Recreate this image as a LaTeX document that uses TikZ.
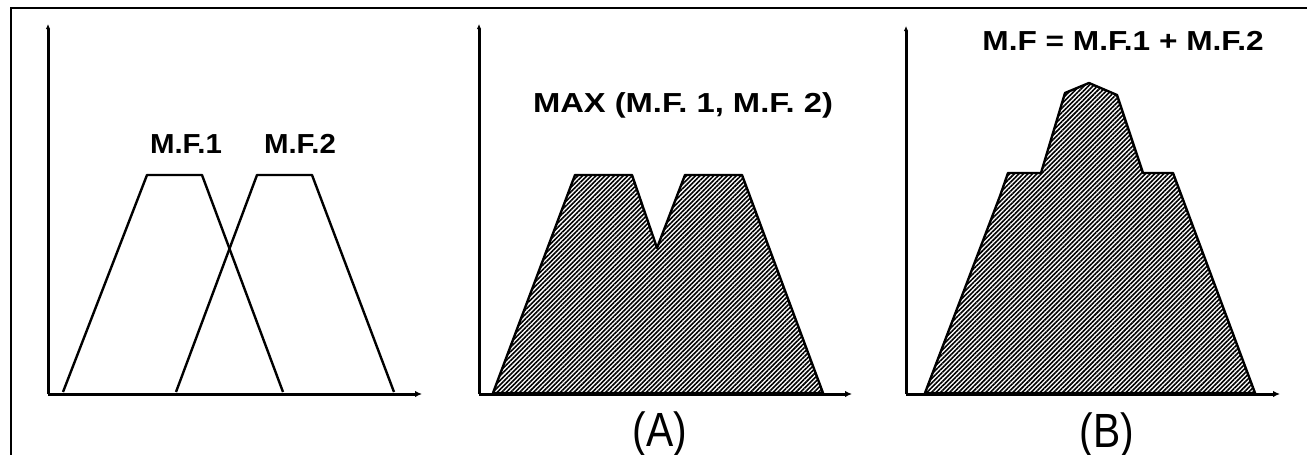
\documentclass[tikz,border=0pt]{standalone}
\usepackage{fontspec}
\setmainfont{Liberation Sans}
\usetikzlibrary{arrows.meta,patterns.meta}
\begin{document}
\begin{tikzpicture}[x=1pt,y=-1pt,
  frame/.style={line width=2.4pt},
  axis/.style={line width=3pt,-{Latex[length=7pt,width=6.5pt]}},
  yaxis/.style={line width=3pt,-{Latex[length=5pt,width=4.5pt]}},
  mf/.style={line width=2.4pt,line join=round},
  hatched/.style={line width=2.4pt,line join=round,pattern={Lines[angle=45,distance=3.2pt,line width=1.6pt]}},
  lbl/.style={anchor=base,inner sep=0pt,font=\bfseries\fontsize{27.5}{30}\selectfont},
  panellbl/.style={anchor=base,inner sep=0pt,font=\fontsize{48}{50}\selectfont}]
\useasboundingbox (0,0) rectangle (1307,455);
% frame
\draw[frame] (11,455) -- (11,8) -- (1307,8);
% ---------- panel 1 ----------
\coordinate (o1) at (48,394);
\coordinate (y1) at (48,24);
\coordinate (x1) at (422,394);
\draw[yaxis] (o1) -- (y1);
\draw[axis] (o1) -- (x1);
\draw[mf] (63,392) -- (147,175) -- (202,175) -- (283,392);
\draw[mf] (176,392) -- (257,175) -- (312,175) -- (394,392);
\node[lbl] (mf1) at (186,153) {\scalebox{1.07}[1]{M.F.1}};
\node[lbl] (mf2) at (300,153) {\scalebox{1.07}[1]{M.F.2}};
% ---------- panel 2 ----------
\coordinate (o2) at (479,394);
\coordinate (y2) at (479,24);
\coordinate (x2) at (852,394);
\draw[hatched] (493,393) -- (575,175) -- (632,175) -- (657,248) -- (685,175) -- (742,175) -- (823,393) -- cycle;
\draw[yaxis] (o2) -- (y2);
\draw[axis] (o2) -- (x2);
\node[lbl] (max) at (683,112) {\scalebox{1.19}[1]{MAX (M.F. 1, M.F. 2)}};
\node[panellbl] (A) at (660,446) {\scalebox{0.85}[1]{(A)}};
% ---------- panel 3 ----------
\coordinate (o3) at (906,394);
\coordinate (y3) at (906,26);
\coordinate (x3) at (1280,394);
\draw[hatched] (925,393) -- (1000,196) -- (1008,173) -- (1041,173) -- (1065,93) -- (1089,83) -- (1117,95) -- (1143,173) -- (1173,173) -- (1182,197) -- (1255,393) -- cycle;
\draw[yaxis] (o3) -- (y3);
\draw[axis] (o3) -- (x3);
\node[lbl] (sum) at (1123,50) {\scalebox{1.15}[1]{M.F = M.F.1 + M.F.2}};
\node[panellbl] (B) at (1107,447) {\scalebox{0.85}[1]{(B)}};
\end{tikzpicture}
\end{document}
